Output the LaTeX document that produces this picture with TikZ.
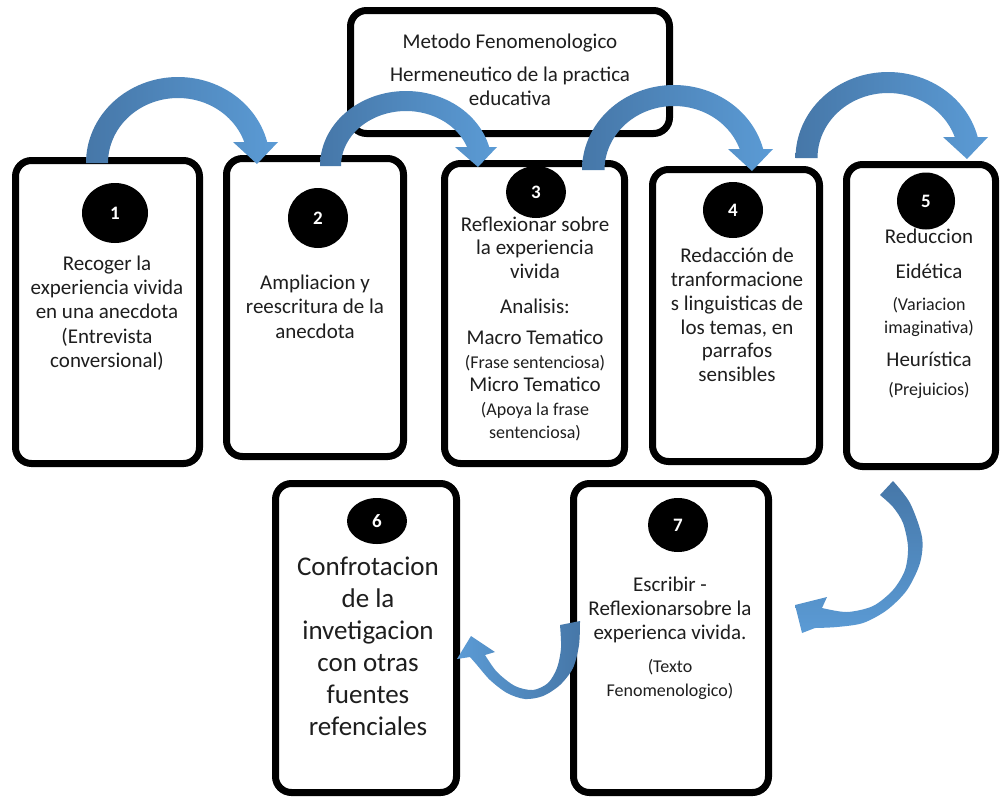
\documentclass[tikz,border=0pt]{standalone}
\usepackage{fontspec}
\setmainfont{Carlito}
\usetikzlibrary{shapes.geometric}
\definecolor{adark}{HTML}{4677A8}
\definecolor{alight}{HTML}{5B9BD5}
\definecolor{textc}{HTML}{1E1E1E}
\newcommand\fl{\rule{0pt}{0.9em}}
\newcommand\sm[1]{{\fontsize{18}{23.5}\selectfont #1}}
\begin{document}
\begin{tikzpicture}[x=1pt,y=-1pt,
  box/.style={draw=black, line width=7pt, rounded corners=16pt, fill=white, inner sep=0pt, rectangle},
  num/.style={ellipse, fill=black, text=white, inner sep=0pt, font=\bfseries\fontsize{19}{19}\selectfont},
  txt/.style={anchor=north, inner sep=0pt, align=center, text=textc, font=\fontsize{21}{23.5}\selectfont}
]
\useasboundingbox (0,0) rectangle (1000,798);
\fill[white] (0,0) rectangle (1000,798);

% boxes
\node[box, minimum width=319pt, minimum height=123pt] (top) at (510,72) {};
\node[box, minimum width=184pt, minimum height=303pt] (b1) at (107.5,312) {};
\node[box, minimum width=177pt, minimum height=298pt] (b2) at (315,307.5) {};
\node[box, minimum width=180pt, minimum height=300pt] (b3) at (534.5,313.5) {};
\node[box, minimum width=167pt, minimum height=292pt] (b4) at (736,315.5) {};
\node[box, minimum width=149pt, minimum height=302pt] (b5) at (921,315.5) {};
\node[box, minimum width=181pt, minimum height=309pt] (b6) at (366,638) {};
\node[box, minimum width=195pt, minimum height=309pt] (b7) at (671,638) {};

% number circles
\node[num, minimum width=66pt, minimum height=60pt] (n1) at (115,213) {1};
\node[num, minimum width=60pt, minimum height=60pt] (n2) at (318,218) {2};
\node[num, minimum width=60pt, minimum height=52pt] (n3) at (536,192) {3};
\node[num, minimum width=60pt, minimum height=56pt] (n4) at (733,210) {4};
\node[num, minimum width=58pt, minimum height=57pt] (n5) at (926,201) {5};
\node[num, minimum width=60pt, minimum height=46pt] (n6) at (377,521) {6};
\node[num, minimum width=60pt, minimum height=54pt] (n7) at (678,525) {7};

% texts
\node[txt, font=\fontsize{21}{24}\selectfont] (t0) at (510,29.1)
  {\fl Metodo Fenomenologico\\[9pt] Hermeneutico de la practica\\ educativa};
\node[txt, font=\fontsize{21}{24.3}\selectfont] (t1) at (107,251.1)
  {\fl Recoger la\\ experiencia vivida\\ en una anecdota\\ (Entrevista\\ conversional)};
\node[txt, font=\fontsize{21}{24.5}\selectfont] (t2) at (315,270.1)
  {\fl Ampliacion y\\ reescritura de la\\ anecdota};
\node[txt] (t3) at (535,212.1)
  {\fl Reflexionar sobre\\ la experiencia\\ vivida\\[11.5pt] Analisis:\\[8pt] Macro Tematico\\ \sm{(Frase sentenciosa)}\\ Micro Tematico\\ \sm{(Apoya la frase}\\ \sm{sentenciosa)}};
\node[txt, font=\fontsize{21}{23.7}\selectfont] (t4) at (737,243.8)
  {\fl Redacción de\\ tranformacione\\ s linguisticas de\\ los temas, en\\ parrafos\\ sensibles};
\node[txt] (t5) at (929,224.1)
  {\fl Reduccion\\[11.5pt] Eidética\\[8.5pt] \sm{(Variacion}\\ \sm{imaginativa)}\\[9pt] Heurística\\[5.5pt] \sm{(Prejuicios)}};
\node[txt, font=\fontsize{27}{32}\selectfont] (t6) at (368,550.7)
  {\fl Confrotacion\\ de la\\ invetigacion\\ con otras\\ fuentes\\ refenciales};
\node[txt, font=\fontsize{21}{24}\selectfont] (t7) at (670,572.1)
  {\fl Escribir -\\ Reflexionarsobre la\\ experienca vivida.\\[9pt] \sm{(Texto}\\ \sm{Fenomenologico)}};

% curved block arrows over the top
\shade[left color=adark, right color=alight]
  plot[domain=180:14.13, samples=60, variable=\t] ({178+92*cos(\t)},{163-86*sin(\t)})
  -- (278,142) -- (257,164) -- (233,142)
  -- plot[domain=18.85:180, samples=60, variable=\t] ({178+70*cos(\t)},{163-65*sin(\t)}) -- cycle;
\shade[left color=adark, right color=alight]
  plot[domain=180:14.67, samples=60, variable=\t] ({406+86*cos(\t)},{166-75*sin(\t)})
  -- (497,147) -- (478,167) -- (455,147)
  -- plot[domain=20.21:180, samples=60, variable=\t] ({406+65*cos(\t)},{166-55*sin(\t)}) -- cycle;
\shade[left color=adark, right color=alight]
  plot[domain=180:14.30, samples=60, variable=\t] ({674+92*cos(\t)},{170-85*sin(\t)})
  -- (773,149) -- (752,171) -- (728,149)
  -- plot[domain=19.15:180, samples=60, variable=\t] ({674+69.5*cos(\t)},{170-64*sin(\t)}) -- cycle;
\shade[left color=adark, right color=alight]
  plot[domain=180:14.13, samples=60, variable=\t] ({888+92.5*cos(\t)},{158-86*sin(\t)})
  -- (988,137) -- (967,159) -- (943,137)
  -- plot[domain=18.85:180, samples=60, variable=\t] ({888+70.5*cos(\t)},{158-65*sin(\t)}) -- cycle;

% arrow 5 -> 7
\shade[top color=adark, bottom color=alight]
  (880,495) -- (893,481)
  -- plot[smooth] coordinates {(893,481) (910,503) (922,537) (920,563) (907,590) (887,610) (863,623) (837,627) (815,628)}
  -- (802,633) -- (795,605) -- (827,597) -- (822,608)
  -- plot[smooth] coordinates {(822,608) (847,612) (873,606) (893,590) (905,570) (908,547) (903,523) (893,507) (880,495)}
  -- cycle;

% arrow 7 -> 6
\shade[left color=alight, right color=adark]
  (560,625) -- (580,621)
  -- plot[smooth] coordinates {(580,621) (579,645) (573,668) (560,685) (543,696) (525,699) (507,693) (490,680) (477,665) (470,657)}
  -- (457,659) -- (471,636) -- (495,652) -- (485,655)
  -- plot[smooth] coordinates {(485,655) (497,672) (515,686) (533,690) (548,683) (557,668) (561,648) (560,625)}
  -- cycle;
\end{tikzpicture}
\end{document}
